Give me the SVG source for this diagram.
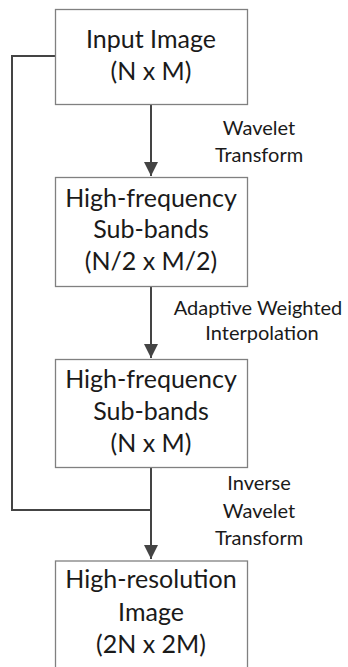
<svg xmlns="http://www.w3.org/2000/svg" width="348" height="667" viewBox="0 0 348 667">
<defs>
<style>
.box{fill:#fff;stroke:#808080;stroke-width:1.3}
.t{font-family:Lato,"Liberation Sans",sans-serif;font-size:25px;fill:#1a1a1a;text-anchor:middle}
.l{font-family:Lato,"Liberation Sans",sans-serif;font-size:20px;fill:#1a1a1a;text-anchor:middle}
.c{fill:none;stroke:#444;stroke-width:2}
</style>
<marker id="ah" markerUnits="userSpaceOnUse" markerWidth="16" markerHeight="16" refX="14" refY="7" orient="auto">
<path d="M0,0 L14,7 L0,14 Z" fill="#444"/>
</marker>
</defs>
<rect width="348" height="667" fill="#fff"/>
<g id="connectors">
<path class="c" d="M151,104 V176" marker-end="url(#ah)"/>
<path class="c" d="M151,286 V358" marker-end="url(#ah)"/>
<path class="c" d="M151,467 V559" marker-end="url(#ah)"/>
<path class="c" d="M55,56 H12 V510 H151"/>
</g>
<g id="n1">
<rect class="box" x="55.5" y="9.5" width="192" height="95"/>
<text class="t" x="151" y="48">Input Image</text>
<text class="t" x="151" y="80">(N x M)</text>
</g>
<g id="n2">
<rect class="box" x="55.5" y="177.5" width="192" height="109"/>
<text class="t" x="151" y="207">High-frequency</text>
<text class="t" x="151" y="238">Sub-bands</text>
<text class="t" x="151" y="270">(N/2 x M/2)</text>
</g>
<g id="n3">
<rect class="box" x="55.5" y="359.5" width="192" height="108"/>
<text class="t" x="151" y="388">High-frequency</text>
<text class="t" x="151" y="420">Sub-bands</text>
<text class="t" x="151" y="452">(N x M)</text>
</g>
<g id="n4">
<rect class="box" x="55.5" y="561" width="192" height="120"/>
<text class="t" x="151" y="588">High-resolution</text>
<text class="t" x="151" y="621">Image</text>
<text class="t" x="151" y="653">(2N x 2M)</text>
</g>
<g id="labels">
<text class="l" x="259" y="135">Wavelet</text>
<text class="l" x="259" y="162">Transform</text>
<text class="l" x="258" y="315">Adaptive Weighted</text>
<text class="l" x="262" y="340">Interpolation</text>
<text class="l" x="259" y="490">Inverse</text>
<text class="l" x="259" y="518">Wavelet</text>
<text class="l" x="259" y="545">Transform</text>
</g>
</svg>
